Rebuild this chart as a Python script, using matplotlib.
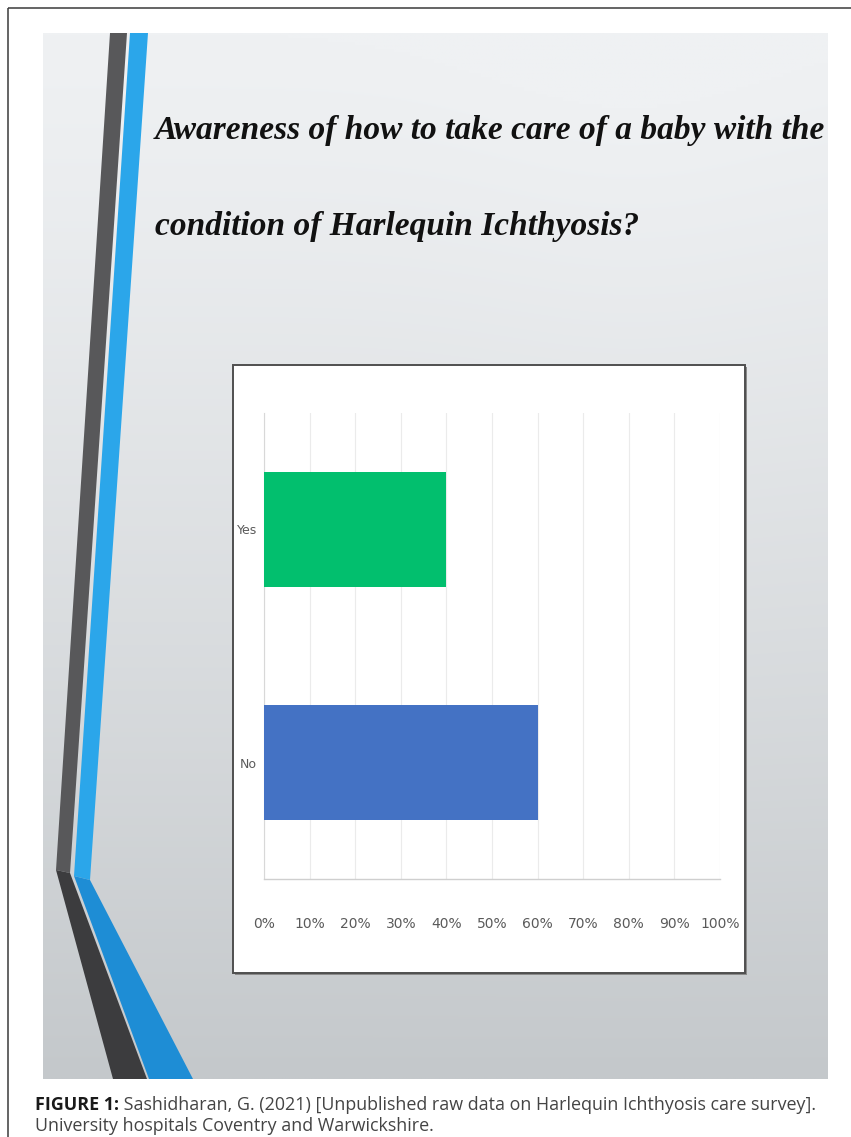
import numpy as np
import matplotlib
matplotlib.use("Agg")
import matplotlib.pyplot as plt
from matplotlib.patches import Rectangle, Polygon

# ---------------- data ----------------
categories = ["Yes", "No"]
shares = [0.40, 0.60]
bar_colors = ["#02BF6E", "#4472C4"]
tick_labels = ["0%", "10%", "20%", "30%", "40%", "50%", "60%", "70%", "80%", "90%", "100%"]
title_lines = ["Awareness of how to take care of a baby with the",
               "condition of Harlequin Ichthyosis?"]
caption_bold = "FIGURE 1:"
caption_rest = " Sashidharan, G. (2021) [Unpublished raw data on Harlequin Ichthyosis care survey]."
caption_line2 = "University hospitals Coventry and Warwickshire."

W, H = 851, 1137
fig = plt.figure(figsize=(W / 100, H / 100), dpi=100)
fig.patch.set_facecolor("white")

# background / decoration axes in pixel coordinates
bg = fig.add_axes([0, 0, 1, 1])
bg.set_xlim(0, W)
bg.set_ylim(H, 0)
bg.axis("off")

# outer frame
bg.plot([8, W], [8, 8], color="#3a3a3a", lw=1.1, solid_capstyle="butt")
bg.plot([8, 8], [8, H], color="#3a3a3a", lw=1.1, solid_capstyle="butt")

# slide background gradient
sl, sr, st, sb = 43, 828, 33, 1079
ny, nx = 300, 200
yy = np.linspace(0, 1, ny)[:, None]
xx = np.linspace(0, 1, nx)[None, :]
top = np.array([239, 241, 243]) / 255
bot = np.array([196, 200, 203]) / 255
t = np.clip(yy ** 1.25 - 0.04 * np.exp(-((xx - 0.75) ** 2) / 0.05) * (1 - yy), 0, 1)
img = top[None, None, :] + (bot - top)[None, None, :] * t[:, :, None]
bg.imshow(img, extent=(sl, sr, sb, st), aspect="auto", interpolation="bilinear", zorder=0)

# decorative stripes
bg.add_patch(Polygon([(110, 33), (127, 33), (70, 873), (56, 870)], closed=True,
                     fc="#58585a", ec="none", zorder=1))
bg.add_patch(Polygon([(56, 870), (70, 873), (147, 1079), (113, 1079)], closed=True,
                     fc="#3c3c3e", ec="none", zorder=1))
bg.add_patch(Polygon([(130, 33), (148, 33), (90, 880), (74, 876)], closed=True,
                     fc="#2BA6EA", ec="none", zorder=1))
bg.add_patch(Polygon([(74, 876), (90, 880), (193, 1079), (149, 1079)], closed=True,
                     fc="#1E8DD5", ec="none", zorder=1))

# chart box (with slight shadow)
bg.add_patch(Rectangle((235, 367), 512, 608, fc="#8a8a8a", ec="none", zorder=2))
bg.add_patch(Rectangle((233, 365), 512, 608, fc="white", ec="#4f4f4f", lw=1.4, zorder=3))

# ---------------- title ----------------
title_kw = dict(fontfamily=["Liberation Serif", "DejaVu Serif"], fontweight="bold",
                fontstyle="italic", color="#111111", ha="left", va="baseline", zorder=5)
t1 = bg.text(155, 150, title_lines[0], fontsize=30, **title_kw)
t2 = bg.text(155, 245, title_lines[1], fontsize=30, **title_kw)
fig.canvas.draw()
r = fig.canvas.get_renderer()
for _ in range(2):
    w = t1.get_window_extent(r).width
    fs = t1.get_fontsize() * 670 / w
    t1.set_fontsize(fs)
    t2.set_fontsize(fs)
    fig.canvas.draw()
fs_px = t1.get_fontsize() * 100 / 72
t1.set_y(128 + 0.33 * fs_px)
t2.set_y(224 + 0.33 * fs_px)

# ---------------- chart ----------------
ax = fig.add_axes([264 / W, 1 - 879 / H, 456 / W, 466 / H])
ax.set_facecolor("white")
ax.barh(categories, shares, height=0.49, color=bar_colors, zorder=3)
ax.set_xlim(0, 1)
ax.set_ylim(1.5, -0.5)
ax.set_xticks(np.linspace(0, 1, len(tick_labels)), tick_labels)
narrow = ["Liberation Sans Narrow", "DejaVu Sans"]
for lab in ax.get_xticklabels() + ax.get_yticklabels():
    lab.set_fontfamily(narrow)
ax.tick_params(axis="x", length=0, pad=27, labelsize=10, labelcolor="#5a5a5a")
ax.tick_params(axis="y", length=0, pad=5, labelsize=9, labelcolor="#5a5a5a")
ax.grid(axis="x", color="#ebebeb", lw=0.8)
ax.grid(axis="y", visible=False)
ax.set_axisbelow(True)
for s in ["top", "right"]:
    ax.spines[s].set_visible(False)
ax.spines["left"].set_color("#d8d8d8")
ax.spines["left"].set_linewidth(0.8)
ax.spines["bottom"].set_color("#cfcfcf")
ax.spines["bottom"].set_linewidth(1.0)

# ---------------- caption ----------------
cap_kw = dict(fontfamily=["Open Sans", "DejaVu Sans"], ha="left", va="baseline")
c1 = bg.text(35, 1110, caption_bold, fontsize=12, fontweight="bold", color="#1a1a1a", **cap_kw)
c2 = bg.text(35, 1110, caption_rest, fontsize=12, color="#444444", **cap_kw)
c3 = bg.text(35, 1131, caption_line2, fontsize=12, color="#444444", **cap_kw)
fig.canvas.draw()
for _ in range(2):
    w1 = c1.get_window_extent(r).width
    w2 = c2.get_window_extent(r).width
    fs = c1.get_fontsize() * 783 / (w1 + w2)
    for c in (c1, c2, c3):
        c.set_fontsize(fs)
    fig.canvas.draw()
w1 = c1.get_window_extent(r).width
c2.set_x(35 + w1)

fig.savefig("out.png", dpi=100)
